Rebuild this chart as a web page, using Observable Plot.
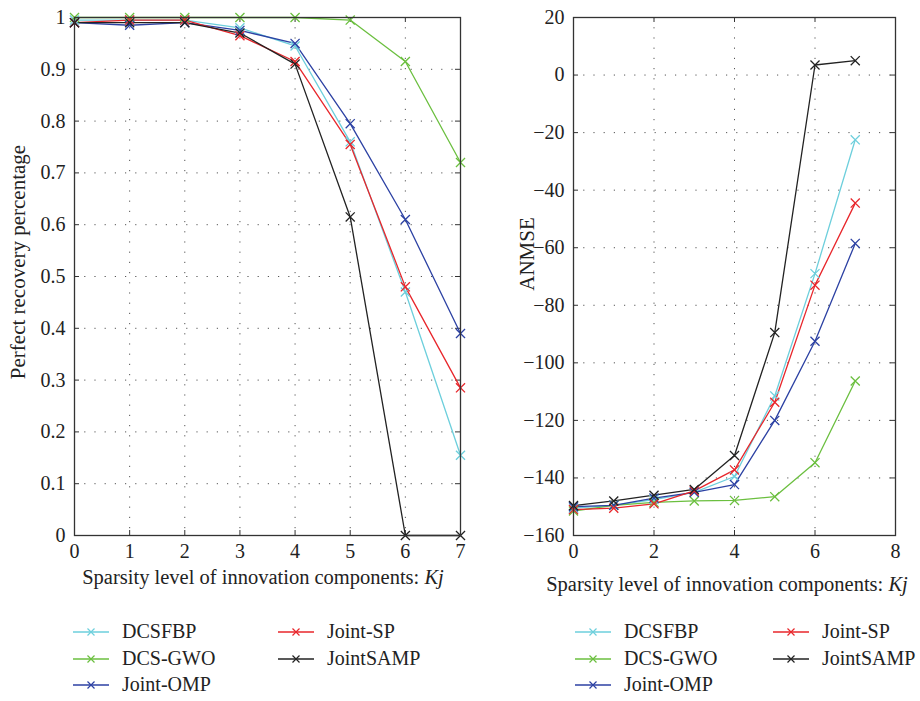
<!DOCTYPE html>
<html>
<head>
<meta charset="utf-8">
<script src="https://cdn.jsdelivr.net/npm/d3@7"></script>
<script src="https://cdn.jsdelivr.net/npm/@observablehq/plot@0.6"></script>
<style>
  html, body { margin: 0; padding: 0; background: #fff; }
  #root { position: relative; width: 920px; height: 701px; background: #fff; font-family: 'Liberation Serif', 'Times New Roman', serif; color: #222; }
  .chart { position: absolute; top: 0; }
  .xlabel { position: absolute; font-size: 20.5px; white-space: nowrap; transform: translateX(-50%); font-family: 'Liberation Serif', serif; }
  .ylabel { position: absolute; font-size: 21px; white-space: nowrap; transform: translate(-50%, -50%) rotate(-90deg); font-family: 'Liberation Serif', serif; }
  .item { position: absolute; display: flex; align-items: center; white-space: nowrap; font-size: 20px; font-family: 'Liberation Serif', serif; }
  .item svg { margin-right: 13px; }
</style>
</head>
<body>
<div id="root"></div>
<script>
// ---- data ----
const sparsity = [0, 1, 2, 3, 4, 5, 6, 7];
const seriesNames = ["DCSFBP", "DCS-GWO", "Joint-OMP", "Joint-SP", "JointSAMP"];
const seriesColors = ["#6dcfdc", "#6bbf3f", "#2c41a3", "#e8262b", "#222222"];

// Perfect recovery percentage (left panel)
const recDCSFBP    = [0.995, 0.995, 0.995, 0.980, 0.945, 0.760, 0.470, 0.155];
const recDCSGWO    = [1.000, 1.000, 1.000, 1.000, 1.000, 0.995, 0.915, 0.720];
const recJointOMP  = [0.990, 0.985, 0.990, 0.975, 0.950, 0.795, 0.610, 0.390];
const recJointSP   = [0.990, 0.995, 0.995, 0.965, 0.915, 0.755, 0.480, 0.285];
const recJointSAMP = [0.990, 0.990, 0.990, 0.970, 0.910, 0.615, 0.000, 0.000];

// ANMSE (right panel)
const anDCSFBP    = [-150.5, -149.5, -147.5, -145.0, -139.5, -111.5, -69.0, -22.5];
const anDCSGWO    = [-151.5, -149.5, -148.5, -148.0, -147.8, -146.5, -134.7, -106.3];
const anJointOMP  = [-150.0, -149.5, -147.0, -145.0, -142.3, -120.0, -92.5, -58.5];
const anJointSP   = [-151.0, -150.5, -149.0, -144.5, -137.2, -113.7, -73.0, -44.5];
const anJointSAMP = [-149.6, -148.0, -146.0, -144.0, -132.2, -89.5, 3.5, 5.0];

const xTicksL = [0, 1, 2, 3, 4, 5, 6, 7];
const yTicksL = [0, 0.1, 0.2, 0.3, 0.4, 0.5, 0.6, 0.7, 0.8, 0.9, 1];
const xTicksR = [0, 2, 4, 6, 8];
const yTicksR = [-160, -140, -120, -100, -80, -60, -40, -20, 0, 20];

const xTitle = "Sparsity level of innovation components: ";
const xTitleItalic = "Kj";
const yTitleL = "Perfect recovery percentage";
const yTitleR = "ANMSE";

function rows(arrays) {
  const out = [];
  seriesNames.forEach((name, i) => {
    arrays[i].forEach((v, j) => out.push({name, k: sparsity[j], v}));
  });
  return out;
}
const recRows = rows([recDCSFBP, recDCSGWO, recJointOMP, recJointSP, recJointSAMP]);
const anRows = rows([anDCSFBP, anDCSGWO, anJointOMP, anJointSP, anJointSAMP]);

function panel({data, xDomain, yDomain, xTicks, yTicks, yFormat, width, height, mL, mR, mT, mB}) {
  const fw = width - mL - mR, fh = height - mT - mB;
  const tick = 5;
  const dx = (xDomain[1] - xDomain[0]) * tick / fw;
  const dy = (yDomain[1] - yDomain[0]) * tick / fh;
  const tickStyle = {stroke: "#333", strokeWidth: 1};
  return Plot.plot({
    width, height, marginLeft: mL, marginRight: mR, marginTop: mT, marginBottom: mB,
    style: "font-family: 'Liberation Serif', 'Times New Roman', serif; font-size: 20px; color: #222; background: transparent; overflow: visible;",
    x: {domain: xDomain, label: null},
    y: {domain: yDomain, label: null},
    color: {domain: seriesNames, range: seriesColors},
    marks: [
      Plot.gridX(xTicks, {stroke: "#444", strokeOpacity: 0.9, strokeDasharray: "1.2,9"}),
      Plot.gridY(yTicks, {stroke: "#444", strokeOpacity: 0.9, strokeDasharray: "1.2,9"}),
      Plot.ruleY(yTicks, {y: d => d, x1: xDomain[0], x2: xDomain[0] + dx, ...tickStyle}),
      Plot.ruleY(yTicks, {y: d => d, x1: xDomain[1] - dx, x2: xDomain[1], ...tickStyle}),
      Plot.ruleX(xTicks, {x: d => d, y1: yDomain[0], y2: yDomain[0] + dy, ...tickStyle}),
      Plot.ruleX(xTicks, {x: d => d, y1: yDomain[1] - dy, y2: yDomain[1], ...tickStyle}),
      Plot.line(data, {x: "k", y: "v", z: "name", stroke: "name", strokeWidth: 1.3}),
      Plot.dot(data, {x: "k", y: "v", stroke: "name", symbol: "times", r: 4.2, strokeWidth: 1.3}),
      Plot.frame({stroke: "#333", strokeWidth: 1.3}),
      Plot.axisX({ticks: xTicks, tickSize: 0, tickPadding: 8, tickFormat: d => String(d), fontFamily: "Liberation Serif"}),
      Plot.axisY({ticks: yTicks, tickSize: 0, tickPadding: 9, tickFormat: yFormat, fontFamily: "Liberation Serif"})
    ]
  });
}

const root = document.getElementById("root");

const left = panel({
  data: recRows, xDomain: [0, 7], yDomain: [0, 1], xTicks: xTicksL, yTicks: yTicksL,
  yFormat: d => String(+d.toFixed(1)),
  width: 475, height: 560, mL: 74, mR: 15, mT: 17, mB: 25
});
left.classList.add("chart");
left.style.left = "0px";
root.appendChild(left);

const right = panel({
  data: anRows, xDomain: [0, 8], yDomain: [-160, 20], xTicks: xTicksR, yTicks: yTicksR,
  yFormat: d => d3.format("d")(d),
  width: 440, height: 560, mL: 93, mR: 25, mT: 17, mB: 25
});
right.classList.add("chart");
right.style.left = "480px";
root.appendChild(right);

function addXLabel(cx, top) {
  const d = document.createElement("div");
  d.className = "xlabel";
  d.style.left = cx + "px";
  d.style.top = top + "px";
  d.append(xTitle);
  const i = document.createElement("i");
  i.textContent = xTitleItalic;
  d.append(i);
  root.appendChild(d);
}
addXLabel(263, 566);
addXLabel(727, 573);

function addYLabel(text, cx, cy) {
  const d = document.createElement("div");
  d.className = "ylabel";
  d.style.left = cx + "px";
  d.style.top = cy + "px";
  d.textContent = text;
  root.appendChild(d);
}
addYLabel(yTitleL, 18, 262);
addYLabel(yTitleR, 527, 254);

function legendSymbol(color) {
  const ns = "http://www.w3.org/2000/svg";
  const s = document.createElementNS(ns, "svg");
  s.setAttribute("width", 36); s.setAttribute("height", 12);
  const l = document.createElementNS(ns, "line");
  l.setAttribute("x1", 0); l.setAttribute("x2", 36); l.setAttribute("y1", 6); l.setAttribute("y2", 6);
  l.setAttribute("stroke", color); l.setAttribute("stroke-width", 1.4);
  s.appendChild(l);
  const p = document.createElementNS(ns, "path");
  p.setAttribute("d", "M14.5,2.5L21.5,9.5M21.5,2.5L14.5,9.5");
  p.setAttribute("stroke", color); p.setAttribute("stroke-width", 1.2);
  s.appendChild(p);
  return s;
}
function addLegend(x0, x1) {
  const pos = [[x0, 633], [x0, 660], [x0, 686], [x1, 633], [x1, 660]];
  seriesNames.forEach((name, i) => {
    const it = document.createElement("div");
    it.className = "item";
    it.style.left = pos[i][0] + "px";
    it.style.top = (pos[i][1] - 13) + "px";
    it.appendChild(legendSymbol(seriesColors[i]));
    const t = document.createElement("span");
    t.textContent = name;
    it.appendChild(t);
    root.appendChild(it);
  });
}
addLegend(73, 278);
addLegend(575, 773);
</script>
</body>
</html>
